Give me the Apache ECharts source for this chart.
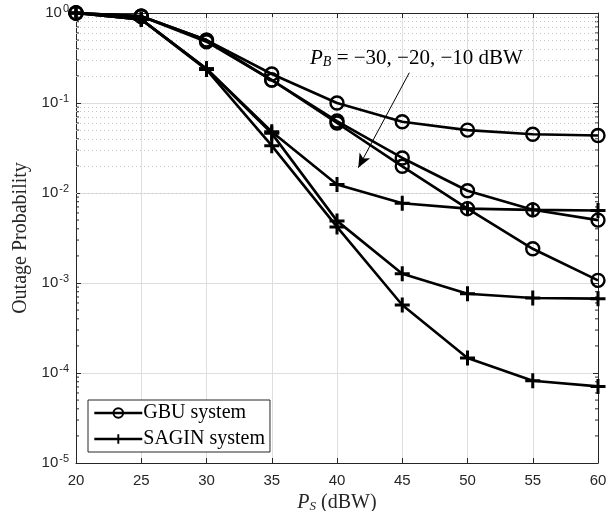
<!DOCTYPE html>
<html><head><meta charset="utf-8">
<script src="https://cdn.jsdelivr.net/npm/echarts@6/dist/echarts.min.js"></script>
<style>html,body{margin:0;padding:0;background:#fff}#c{width:610px;height:511px}</style>
</head><body><div id="c"></div>
<script>
const psValues = [20, 25, 30, 35, 40, 45, 50, 55, 60];
const xTicks = [20, 25, 30, 35, 40, 45, 50, 55, 60];
const gbuPB30 = [1, 0.92, 0.50, 0.21, 0.100, 0.062, 0.050, 0.045, 0.0435];
const gbuPB20 = [1, 0.92, 0.50, 0.18, 0.063, 0.0245, 0.0106, 0.0065, 0.0050];
const gbuPB10 = [1, 0.92, 0.48, 0.18, 0.060, 0.0198, 0.0067, 0.0024, 0.00107];
const saginPB30 = [1, 0.85, 0.24, 0.048, 0.0124, 0.0077, 0.0067, 0.0065, 0.0064];
const saginPB20 = [1, 0.85, 0.24, 0.046, 0.0049, 0.00127, 0.00076, 0.00068, 0.00067];
const saginPB10 = [1, 0.85, 0.235, 0.0336, 0.0042, 0.00057, 0.000147, 0.000082, 0.000071];
const minorGridValues = [];
for (let e = -5; e < 0; e++) for (let m = 2; m <= 9; m++) minorGridValues.push(+(m * Math.pow(10, e)).toPrecision(3));
const arrowFrom = [45.54, 0.217];
const arrowTo = [41.63, 0.0191];

const serif = 'Liberation Serif';
const sans = 'Liberation Sans';
const ink = '#262626';
const plusPath = 'path://M5.6,0H8.4V5.6H14V8.4H8.4V14H5.6V8.4H0V5.6H5.6Z';

function pairs(ys) { return psValues.map((x, i) => [x, ys[i]]); }
function gbu(ys) {
  return { name: 'GBU system', type: 'line', data: pairs(ys), symbol: 'circle', symbolSize: 13,
    lineStyle: { color: '#000', width: 2.6 }, itemStyle: { color: 'rgba(0,0,0,0)', borderColor: '#000', borderWidth: 2.4 },
    z: 5, animation: false };
}
function sagin(ys) {
  return { name: 'SAGIN system', type: 'line', data: pairs(ys), symbol: plusPath, symbolSize: 15,
    lineStyle: { color: '#000', width: 2.6 }, itemStyle: { color: '#000', borderWidth: 0 },
    z: 5, animation: false };
}

const chart = echarts.init(document.getElementById('c'), null, { renderer: 'canvas' });
chart.setOption({
  animation: false,
  backgroundColor: '#fff',
  grid: { left: 76, right: 12, top: 13, bottom: 48, containLabel: false, outerBoundsMode: 'none' },
  title: {
    left: 305, top: 42,
    text: '{i|P}{sub|B}{n| = −30, −20, −10 dBW}',
    textStyle: { fontWeight: 'normal', rich: {
      i: { fontFamily: serif, fontStyle: 'italic', fontWeight: 'normal', fontSize: 21, color: '#000' },
      sub: { fontFamily: serif, fontStyle: 'italic', fontWeight: 'normal', fontSize: 14, color: '#000', verticalAlign: 'bottom', padding: [8, 0, 0, 0] },
      n: { fontFamily: serif, fontWeight: 'normal', fontSize: 21, color: '#000' }
    } }
  },
  legend: {
    left: 88, top: 400, orient: 'vertical',
    data: ['GBU system', 'SAGIN system'],
    itemWidth: 48, itemHeight: 12, itemGap: 6,
    lineStyle: { width: 2.6 },
    backgroundColor: '#fff', borderColor: ink, borderWidth: 1, borderRadius: 0,
    padding: [3, 5, 3, 5],
    textStyle: { fontFamily: serif, fontSize: 20, color: '#000', padding: [0, 0, 0, -4], lineHeight: 19 }
  },
  xAxis: [{
    type: 'value', min: 20, max: 60, interval: 5,
    name: '{i|P}{sub|S}{n| (dBW)}', nameLocation: 'middle', nameGap: 21,
    nameTextStyle: { rich: {
      i: { fontFamily: serif, fontStyle: 'italic', fontSize: 20, color: ink },
      sub: { fontFamily: serif, fontStyle: 'italic', fontSize: 13, color: ink, verticalAlign: 'bottom', padding: [8, 0, 0, 0] },
      n: { fontFamily: serif, fontSize: 20, color: ink }
    } },
    axisLine: { show: true, onZero: false, lineStyle: { color: ink, width: 1 } },
    axisTick: { show: true, inside: true, length: 5, lineStyle: { color: ink } },
    axisLabel: { fontFamily: sans, fontSize: 15, color: ink, margin: 10,
      formatter: v => xTicks.includes(v) ? String(v) : '' },
    splitLine: { show: true, lineStyle: { color: '#dedede', width: 1 } }
  }, {
    type: 'value', min: 20, max: 60, interval: 5, position: 'top',
    axisLine: { show: true, onZero: false, lineStyle: { color: ink, width: 1 } },
    axisTick: { show: true, inside: true, length: 5, lineStyle: { color: ink } },
    axisLabel: { show: false }, splitLine: { show: false }
  }],
  yAxis: [{
    type: 'log', min: 1e-5, max: 1, logBase: 10,
    name: 'Outage Probability', nameLocation: 'middle', nameGap: 45,
    nameTextStyle: { fontFamily: serif, fontSize: 20, color: ink },
    axisLine: { show: true, onZero: false, lineStyle: { color: ink, width: 1 } },
    axisTick: { show: true, inside: true, length: 5, lineStyle: { color: ink } },
    axisLabel: { fontFamily: sans, fontSize: 15, color: ink, margin: 7,
      formatter: v => '10{sup|' + Math.round(Math.log10(v)) + '}',
      rich: { sup: { fontFamily: sans, fontSize: 11, color: ink, verticalAlign: 'top', padding: [0, 0, 9, 1] } } },
    splitLine: { show: true, lineStyle: { color: '#dedede', width: 1 } }
  }, {
    type: 'log', min: 1e-5, max: 1, logBase: 10, position: 'right',
    axisLine: { show: true, onZero: false, lineStyle: { color: ink, width: 1 } },
    axisTick: { show: true, inside: true, length: 5, lineStyle: { color: ink } },
    axisLabel: { show: false }, splitLine: { show: false }
  }],
  series: [
    { name: 'minorGrid', type: 'line', data: [], silent: true, z: 1,
      markLine: { silent: true, symbol: 'none', label: { show: false }, animation: false,
        lineStyle: { color: '#c8c8c8', type: [1, 3], width: 1 },
        data: minorGridValues.map(v => ({ yAxis: v })) } },
    { name: 'minorTicks', type: 'custom', silent: true, z: 3, data: minorGridValues.map(v => [20, v]),
      renderItem: (params, api) => {
        const v = api.value(1);
        const l = api.coord([20, v]);
        const r = api.coord([60, v]);
        const st = { stroke: ink, lineWidth: 1 };
        return { type: 'group', children: [
          { type: 'line', shape: { x1: l[0], y1: l[1], x2: l[0] + 3, y2: l[1] }, style: st },
          { type: 'line', shape: { x1: r[0] - 3, y1: r[1], x2: r[0], y2: r[1] }, style: st }
        ] };
      } },
    { name: 'annot', type: 'line', data: [], silent: true, z: 6,
      markLine: { silent: true, symbol: ['none', 'arrow'], symbolSize: [9, 14], label: { show: false }, animation: false,
        lineStyle: { color: '#000', type: 'solid', width: 1 },
        data: [[{ coord: arrowFrom }, { coord: arrowTo }]] } },
    gbu(gbuPB30), gbu(gbuPB20), gbu(gbuPB10),
    sagin(saginPB30), sagin(saginPB20), sagin(saginPB10)
  ]
});
</script></body></html>
